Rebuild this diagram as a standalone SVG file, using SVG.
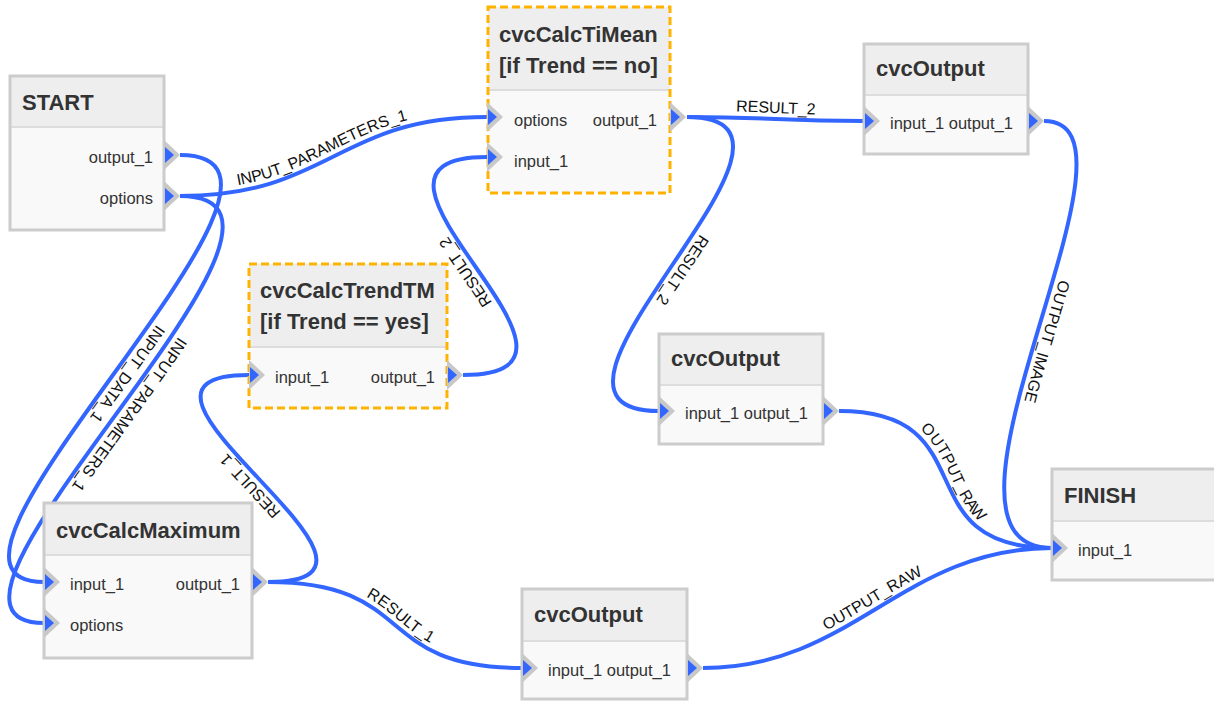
<svg xmlns="http://www.w3.org/2000/svg" xmlns:xlink="http://www.w3.org/1999/xlink" width="1214" height="704" viewBox="0 0 1214 704">
<style>
.body{fill:#f9f9f9;stroke:none}
.head{fill:#eeeeee;stroke:none}
.sep{stroke:#dddddd;stroke-width:2}
.frame{fill:none;stroke:#cccccc;stroke-width:3}
.dash{stroke:#ffb300;stroke-dasharray:8 4}
.title{font-family:"Liberation Sans",Arial,sans-serif;font-size:22px;font-weight:bold;fill:#333333}
.lbl{font-family:"Liberation Sans",Arial,sans-serif;font-size:16.5px;fill:#333333}
.end{text-anchor:end}
.conn path{fill:none;stroke:#3366ff;stroke-width:4}
.clbl{font-family:"Liberation Sans",Arial,sans-serif;font-size:16px;fill:#111111;text-anchor:middle}
</style>
<defs>
<g id="port"><polygon points="0,-15 16,0 0,15" fill="#c8c8c8"/><polygon points="1,-8 10,0 1,8" fill="#3366ff"/></g>
</defs>
<rect width="1214" height="704" fill="#ffffff"/>
<g id="connectors" class="conn">
<path id="c1" d="M180,155 C360,155 -121,582 44,582"/>
<path id="c2" d="M180,196 C330,196 337,117 487,117"/>
<path id="c3" d="M180,196 C365,196 -121,623 44,623"/>
<path id="c4" d="M268,582 C443,582 74,375 249,375"/>
<path id="c5" d="M268,582 C418,582 372,668 522,668"/>
<path id="c6" d="M463,375 C638,375 312,157 487,157"/>
<path id="c7" d="M687,117 C775,117 776,121 864,121"/>
<path id="c8" d="M687,117 C857,117 489,411 659,411"/>
<path id="c9" d="M1044,121 C1164,121 902,548 1052,548"/>
<path id="c10" d="M839,411 C989,411 902,548 1052,548"/>
<path id="c11" d="M703,668 C853,668 902,548 1052,548"/>
<text class="clbl" dy="-6"><textPath href="#c1" startOffset="50%">INPUT_DATA_1</textPath></text>
<text class="clbl" dy="-6"><textPath href="#c2" startOffset="47%">INPUT_PARAMETERS_1</textPath></text>
<text class="clbl" dy="-6"><textPath href="#c3" startOffset="50%">INPUT_PARAMETERS_1</textPath></text>
<text class="clbl" dy="-6"><textPath href="#c4" startOffset="50%">RESULT_1</textPath></text>
<text class="clbl" dy="-6"><textPath href="#c5" startOffset="50%">RESULT_1</textPath></text>
<text class="clbl" dy="-6"><textPath href="#c6" startOffset="50%">RESULT_2</textPath></text>
<text class="clbl" dy="-6"><textPath href="#c7" startOffset="50%">RESULT_2</textPath></text>
<text class="clbl" dy="-6"><textPath href="#c8" startOffset="50%">RESULT_2</textPath></text>
<text class="clbl" dy="-6"><textPath href="#c9" startOffset="50%">OUTPUT_IMAGE</textPath></text>
<text class="clbl" dy="-6"><textPath href="#c10" startOffset="50%">OUTPUT_RAW</textPath></text>
<text class="clbl" dy="-6"><textPath href="#c11" startOffset="50%">OUTPUT_RAW</textPath></text>
</g>
<g id="start">
<rect class="body" x="10" y="76" width="154" height="154"/>
<rect class="head" x="10" y="76" width="154" height="51"/>
<line class="sep" x1="10" y1="127" x2="164" y2="127"/>
<rect class="frame" x="10" y="76" width="154" height="154"/>
<text class="title" x="22" y="110">START</text>
<text class="lbl end" x="153" y="163">output_1</text>
<text class="lbl end" x="153" y="204">options</text>
<use href="#port" x="164" y="155"/>
<use href="#port" x="164" y="196"/>
</g>
<g id="cvcCalcTiMean">
<rect class="body" x="488" y="7" width="182" height="186"/>
<rect class="head" x="488" y="7" width="182" height="83"/>
<line class="sep" x1="488" y1="90" x2="670" y2="90"/>
<rect class="frame dash" x="488" y="7" width="182" height="186"/>
<text class="title" x="499" y="42">cvcCalcTiMean</text>
<text class="title" x="499" y="73">[if Trend == no]</text>
<text class="lbl" x="514" y="126">options</text>
<text class="lbl end" x="657" y="126">output_1</text>
<text class="lbl" x="514" y="167">input_1</text>
<use href="#port" x="487" y="117"/>
<use href="#port" x="487" y="157"/>
<use href="#port" x="670" y="117"/>
</g>
<g id="cvcCalcTrendTM">
<rect class="body" x="249" y="264" width="198" height="144"/>
<rect class="head" x="249" y="264" width="198" height="83"/>
<line class="sep" x1="249" y1="347" x2="447" y2="347"/>
<rect class="frame dash" x="249" y="264" width="198" height="144"/>
<text class="title" x="260" y="298">cvcCalcTrendTM</text>
<text class="title" x="260" y="329">[if Trend == yes]</text>
<text class="lbl" x="275" y="383">input_1</text>
<text class="lbl end" x="435" y="383">output_1</text>
<use href="#port" x="249" y="375"/>
<use href="#port" x="447" y="375"/>
</g>
<g id="cvcCalcMaximum">
<rect class="body" x="44" y="503" width="208" height="155"/>
<rect class="head" x="44" y="503" width="208" height="52"/>
<line class="sep" x1="44" y1="555" x2="252" y2="555"/>
<rect class="frame" x="44" y="503" width="208" height="155"/>
<text class="title" x="56" y="538">cvcCalcMaximum</text>
<text class="lbl" x="70" y="590">input_1</text>
<text class="lbl end" x="240" y="590">output_1</text>
<text class="lbl" x="70" y="631">options</text>
<use href="#port" x="44" y="582"/>
<use href="#port" x="44" y="623"/>
<use href="#port" x="252" y="582"/>
</g>
<g id="cvcOutput_top">
<rect class="body" x="864" y="44" width="164" height="110"/>
<rect class="head" x="864" y="44" width="164" height="51"/>
<line class="sep" x1="864" y1="95" x2="1028" y2="95"/>
<rect class="frame" x="864" y="44" width="164" height="110"/>
<text class="title" x="876" y="76">cvcOutput</text>
<text class="lbl" x="890" y="129">input_1 output_1</text>
<use href="#port" x="864" y="121"/>
<use href="#port" x="1028" y="121"/>
</g>
<g id="cvcOutput_mid">
<rect class="body" x="659" y="334" width="164" height="110"/>
<rect class="head" x="659" y="334" width="164" height="51"/>
<line class="sep" x1="659" y1="385" x2="823" y2="385"/>
<rect class="frame" x="659" y="334" width="164" height="110"/>
<text class="title" x="671" y="366">cvcOutput</text>
<text class="lbl" x="685" y="419">input_1 output_1</text>
<use href="#port" x="659" y="411"/>
<use href="#port" x="823" y="411"/>
</g>
<g id="cvcOutput_bottom">
<rect class="body" x="522" y="589" width="165" height="110"/>
<rect class="head" x="522" y="589" width="165" height="52"/>
<line class="sep" x1="522" y1="641" x2="687" y2="641"/>
<rect class="frame" x="522" y="589" width="165" height="110"/>
<text class="title" x="534" y="622">cvcOutput</text>
<text class="lbl" x="548" y="676">input_1 output_1</text>
<use href="#port" x="522" y="668"/>
<use href="#port" x="687" y="668"/>
</g>
<g id="finish">
<rect class="body" x="1052" y="469" width="180" height="111"/>
<rect class="head" x="1052" y="469" width="180" height="52"/>
<line class="sep" x1="1052" y1="521" x2="1232" y2="521"/>
<rect class="frame" x="1052" y="469" width="180" height="111"/>
<text class="title" x="1064" y="503">FINISH</text>
<text class="lbl" x="1078" y="556">input_1</text>
<use href="#port" x="1052" y="548"/>
</g>
</svg>
